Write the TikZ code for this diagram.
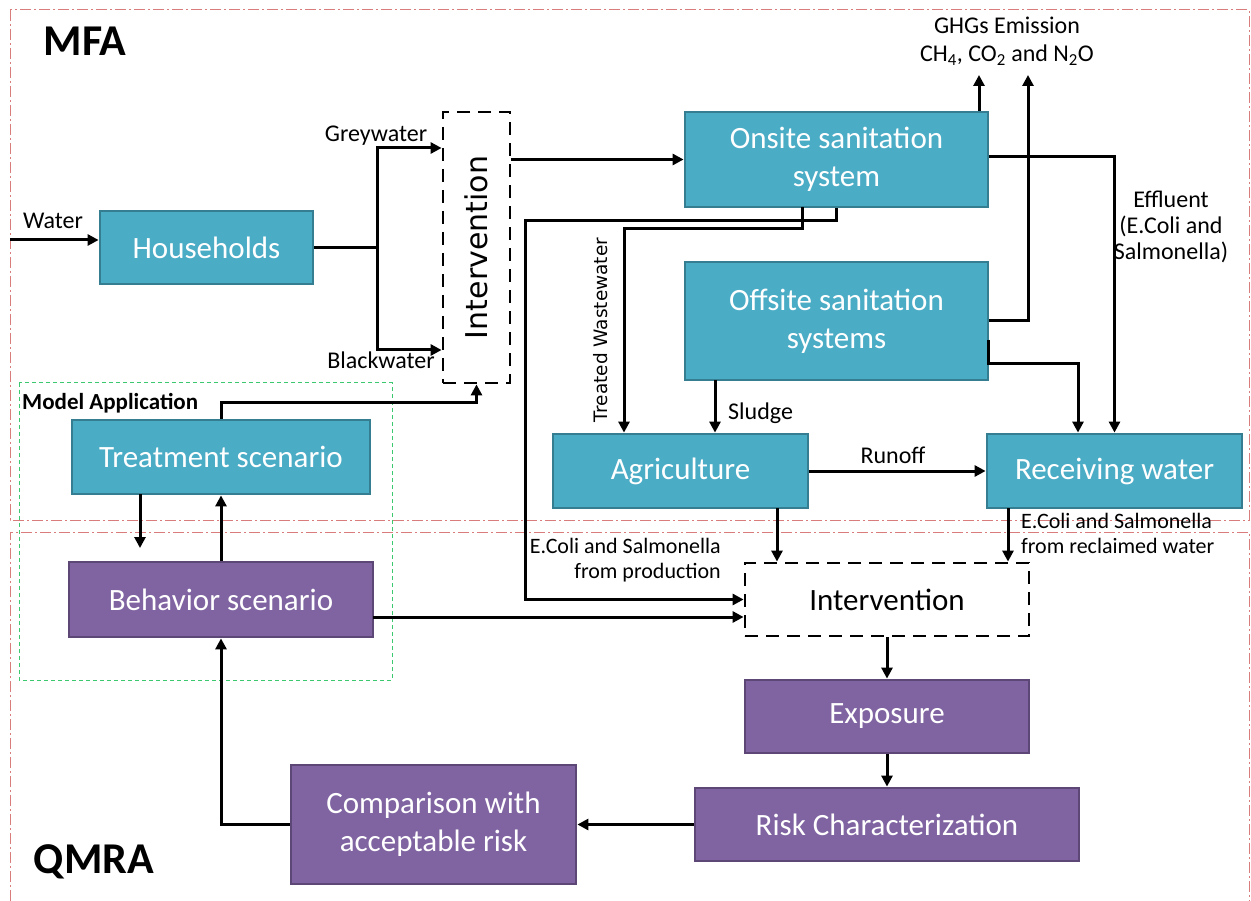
\documentclass[tikz,border=0pt]{standalone}
\usepackage{fontspec}
\setmainfont{Carlito}
\newfontfamily\verafont{DejaVu Sans}
\usetikzlibrary{arrows.meta,calc}

\definecolor{tealfill}{HTML}{4BACC6}
\definecolor{tealedge}{HTML}{357D91}
\definecolor{purplefill}{HTML}{8064A2}
\definecolor{purpleedge}{HTML}{5C4776}
\definecolor{framered}{HTML}{D97C7C}
\definecolor{framegreen}{HTML}{3CC86E}

\tikzset{
  boxtext/.style={font=\fontsize{31}{38}\selectfont, align=center, text=white, inner sep=0pt},
  tealbox/.style={boxtext, draw=tealedge, fill=tealfill, line width=2.8pt},
  purplebox/.style={boxtext, draw=purpleedge, fill=purplefill, line width=2.8pt},
  intbox/.style={draw=black, fill=white, line width=2.8pt, dash pattern=on 13pt off 8pt, inner sep=0pt},
  flow/.style={draw=black, line width=3pt, -{Triangle[length=11pt,width=11pt]}},
  link/.style={draw=black, line width=3pt},
  lbl/.style={font=\fontsize{24}{26}\selectfont, inner sep=0pt},
  title/.style={font=\bfseries\fontsize{44}{44}\selectfont, inner sep=0pt},
  regionframe/.style={draw=framered, line width=1pt, dash pattern=on 11pt off 3pt on 2pt off 3pt},
  appframe/.style={draw=framegreen, line width=1pt, dash pattern=on 4pt off 3pt},
}

\begin{document}
\begin{tikzpicture}[x=1pt, y=-1pt]
\useasboundingbox (0,0) rectangle (1251,901);

% region frames
\draw[regionframe] (10,10) rectangle (1249,520);
\draw[regionframe] (10,901) -- (10,532) -- (1249,532) -- (1249,901);
\draw[appframe] (19,383) rectangle (392,680);

\node[title] (mfa) at (85,41) {MFA};
\node[title] (qmra) at (94,862) {QMRA};
\node[font=\bfseries\fontsize{23}{25}\selectfont, inner sep=0pt, anchor=west] (modelapp) at (22,403) {Model Application};

% MFA boxes
\node[tealbox, minimum width=213pt, minimum height=73pt] (house) at (206.5,247.5) {Households};
\node[intbox, minimum width=67pt, minimum height=271pt] (int1) at (476.5,247.5) {};
\node[rotate=90, font=\verafont\fontsize{30}{32}\selectfont, inner sep=0pt] (int1txt) at (int1.center) {Intervention};
\node[tealbox, minimum width=303pt, minimum height=95pt] (onsite) at (836.5,159.5) {Onsite sanitation\\system};
\node[tealbox, minimum width=303pt, minimum height=118pt] (offsite) at (836.5,321) {Offsite sanitation\\systems};
\node[tealbox, minimum width=255pt, minimum height=74pt] (agri) at (680.5,471) {Agriculture};
\node[tealbox, minimum width=255pt, minimum height=74pt] (recv) at (1114.5,471) {Receiving water};
\node[tealbox, minimum width=298pt, minimum height=74pt] (treat) at (221,457) {Treatment scenario};

% QMRA boxes
\node[purplebox, minimum width=304pt, minimum height=75pt] (behav) at (221,599.5) {Behavior scenario};
\node[intbox, minimum width=284pt, minimum height=73pt, font=\fontsize{31}{38}\selectfont] (int2) at (887,599.5) {Intervention};
\node[purplebox, minimum width=284pt, minimum height=73pt] (expo) at (887,716.5) {Exposure};
\node[purplebox, minimum width=384pt, minimum height=73pt] (risk) at (887,824.5) {Risk Characterization};
\node[purplebox, minimum width=285pt, minimum height=119pt] (comp) at (433.5,824.5) {Comparison with\\acceptable risk};

% helper points
\coordinate (wsrc) at (10,240);
\coordinate (split) at (377,247.5);
\coordinate (gw) at (377,148);
\coordinate (bw) at (377,350);
\coordinate (ghgA) at (979,75);
\coordinate (ghgB) at (1028,75);
\coordinate (effbend) at (1114,157);
\coordinate (offA) at (988,340);
\coordinate (offB) at (1078,364);
\coordinate (prodbend) at (525,221);
\coordinate (twbend) at (624,229);
\coordinate (twsrc) at (802,207);
\coordinate (slsrc) at (715,380);
\coordinate (agsrc) at (777,508);
\coordinate (rwsrc) at (1008,508);
\coordinate (bhsrc) at (373,617);
\coordinate (trsrc) at (140,494);
\coordinate (trtip) at (140,548);
\coordinate (mabend) at (221,403);

% MFA connectors
\draw[flow] (wsrc) -- (wsrc -| house.west);
\draw[link] (house.east) -- (split);
\draw[flow] (split) -- (gw) -- (gw -| int1.west);
\draw[flow] (split) -- (bw) -- (bw -| int1.west);
\draw[flow] (int1.east |- onsite.west) -- (onsite.west);
\draw[flow] (onsite.north -| ghgA) -- (ghgA);
\draw[flow] (offsite.east) -| (ghgB);
\draw[flow] (onsite.east |- effbend) -| (recv.north);
\draw[flow] (offA) |- (offB) -- (offB |- recv.north);
\draw[flow] (onsite.south) |- (prodbend) |- (int2.west);
\draw[flow] (twsrc) |- (twbend) -- (twbend |- agri.north);
\draw[flow] (slsrc) -- (slsrc |- agri.north);
\draw[flow] (agri.east) -- (recv.west);
\draw[flow] (agsrc) -- (agsrc |- int2.north);
\draw[flow] (rwsrc) -- (rwsrc |- int2.north);
\draw[flow] (treat.north) |- (mabend) -| (int1.south);
\draw[flow] (trsrc) -- (trtip);
\draw[flow] (behav.north) -- (treat.south);

% QMRA connectors
\draw[flow] (bhsrc) -- (bhsrc -| int2.west);
\draw[flow] (int2.south) -- (expo.north);
\draw[flow] (expo.south) -- (risk.north);
\draw[flow] (risk.west) -- (comp.east);
\draw[flow] (comp.west) -| (behav.south);

% labels
\node[lbl] (lwater) at (53,221) {Water};
\node[lbl] (lgrey) at (376,136) {Greywater};
\node[lbl] (lblack) at (381,360) {Blackwater};
\node[lbl, align=center, font=\fontsize{24}{28}\selectfont] (lghg) at (1007,41) {GHGs Emission\\CH\textsubscript{4}, CO\textsubscript{2} and N\textsubscript{2}O};
\node[lbl, align=center] (leff) at (1171,227) {Effluent\\(E.Coli and\\Salmonella)};
\node[rotate=90, font=\verafont\fontsize{18.5}{20}\selectfont, inner sep=0pt] (ltw) at (601,330) {Treated Wastewater};
\node[lbl, anchor=west] (lsludge) at (728,413) {Sludge};
\node[lbl] (lrunoff) at (893,455) {Runoff};
\node[lbl, align=right, anchor=east, font=\fontsize{22}{25}\selectfont] (lprod) at (721,560.5) {E.Coli and Salmonella\\from production};
\node[lbl, align=left, anchor=west, font=\fontsize{22}{25}\selectfont] (lrecl) at (1021,533.5) {E.Coli and Salmonella\\from reclaimed water};
\end{tikzpicture}
\end{document}
